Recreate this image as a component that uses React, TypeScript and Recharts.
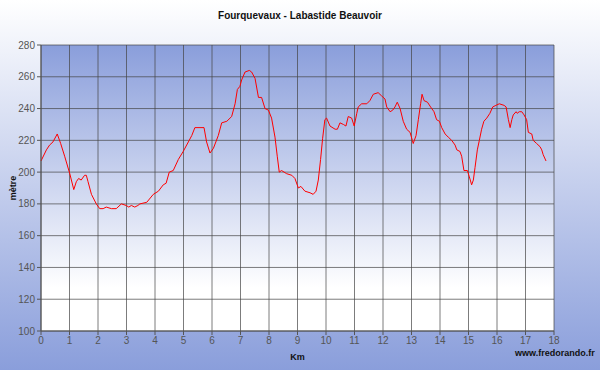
import React from 'react';
import { CartesianGrid, Line, LineChart, XAxis, YAxis } from 'recharts';

// distance (km) and altitude (m)
const km = [
  0, 0.19, 0.3, 0.42, 0.57, 0.69, 0.83, 1.01, 1.15, 1.24, 1.32, 1.41, 1.53, 1.59, 1.65, 1.77, 1.94,
  2.06, 2.18, 2.29, 2.47, 2.64, 2.82, 2.99, 3.08, 3.17, 3.29, 3.4, 3.47, 3.71, 3.94, 4.12, 4.29,
  4.39, 4.5, 4.64, 4.82, 4.99, 5.17, 5.29, 5.4, 5.58, 5.72, 5.81, 5.93, 6.05, 6.22, 6.34, 6.52,
  6.69, 6.81, 6.89, 6.98, 7.04, 7.16, 7.31, 7.39, 7.51, 7.63, 7.74, 7.86, 7.98, 8.09, 8.21, 8.29,
  8.36, 8.44, 8.62, 8.8, 8.91, 9.03, 9.12, 9.26, 9.44, 9.55, 9.65, 9.73, 9.81, 9.88, 9.96, 10.02,
  10.14, 10.32, 10.4, 10.49, 10.61, 10.7, 10.78, 10.9, 10.99, 11.08, 11.13, 11.25, 11.43, 11.54,
  11.66, 11.83, 11.95, 12.07, 12.13, 12.25, 12.34, 12.42, 12.5, 12.6, 12.71, 12.83, 12.95, 13.03,
  13.06, 13.16, 13.24, 13.32, 13.37, 13.44, 13.56, 13.67, 13.79, 13.88, 13.98, 14.06, 14.18,
  14.29, 14.41, 14.53, 14.59, 14.7, 14.76, 14.84, 14.96, 15.03, 15.11, 15.17, 15.23, 15.31, 15.38,
  15.46, 15.54, 15.64, 15.75, 15.85, 15.96, 16.08, 16.25, 16.32, 16.4, 16.46, 16.52, 16.57, 16.67,
  16.71, 16.78, 16.87, 16.95, 17.04, 17.1, 17.22, 17.27, 17.39, 17.51, 17.57, 17.62, 17.72,
];

const altitude = [
  207, 214, 217, 219, 224, 218, 210, 199, 189, 194, 196, 195, 198, 198, 194, 186, 180,
  177, 177, 178, 177, 177, 180, 179, 178, 179, 178, 179, 180, 181, 186, 188, 192,
  193, 200, 201, 208, 213, 219, 223, 228, 228, 228, 219, 212, 215, 223, 231, 232,
  235, 243, 252, 254, 258, 263, 264, 263, 259, 247, 247, 240, 239, 234, 222, 210,
  200, 201, 199, 198, 196, 190, 191, 188, 187, 186, 188, 195, 208, 221, 233, 234,
  229, 227, 227, 231, 230, 229, 235, 234, 229, 237, 241, 243, 243, 245,
  249, 250, 248, 246, 241, 238, 239, 241, 244, 240, 232, 227, 225, 220,
  218, 223, 233, 243, 249, 245, 244, 241, 238, 233, 232, 228, 224,
  222, 220, 217, 214, 213, 210, 201, 201, 197, 192, 195, 203, 214, 220,
  227, 232, 234, 237, 241, 242, 243, 242, 241, 233, 228, 233, 236, 238,
  237, 238, 238, 236, 233, 225, 224, 220, 218, 216, 214, 211, 207,
];

const xTicks = [0, 1, 2, 3, 4, 5, 6, 7, 8, 9, 10, 11, 12, 13, 14, 15, 16, 17, 18];
const yTicks = [100, 120, 140, 160, 180, 200, 220, 240, 260, 280];

const data = km.map((k, i) => ({ km: k, alt: altitude[i] }));

const font = '"Liberation Sans", Arial, sans-serif';
const tickStyle = { fontSize: 10, fill: '#555', fontFamily: font };
const labelStyle = { fontSize: 9, fontWeight: 'bold', fill: '#111', fontFamily: font };

export default function App() {
  return (
    <div
      style={{
        position: 'absolute',
        left: 0,
        top: 0,
        width: 600,
        height: 370,
        background: 'linear-gradient(to bottom, #ffffff 0%, #8a9edb 100%)',
        fontFamily: font,
      }}
    >
      <div
        style={{
          position: 'absolute',
          top: 10,
          width: 600,
          textAlign: 'center',
          fontSize: 10,
          fontWeight: 'bold',
          color: '#111',
        }}
      >
        Fourquevaux - Labastide Beauvoir
      </div>
      <div
        style={{
          position: 'absolute',
          left: 515,
          top: 348,
          fontSize: 9,
          fontWeight: 'bold',
          color: '#111',
        }}
      >
        www.fredorando.fr
      </div>
      <LineChart
        width={600}
        height={370}
        data={data}
        margin={{ top: 45, right: 46, bottom: 0, left: 0 }}
        style={{ position: 'absolute', left: 0, top: 0 }}
      >
        <defs>
          <linearGradient id='plotBg' x1='0' y1='0' x2='0' y2='1'>
            <stop offset='0%' stopColor='#8a9edb' />
            <stop offset='85%' stopColor='#ffffff' />
            <stop offset='100%' stopColor='#ffffff' />
          </linearGradient>
        </defs>
        <CartesianGrid fill='url(#plotBg)' fillOpacity={1} stroke='#444' strokeOpacity={0.7} />
        <XAxis
          dataKey='km'
          type='number'
          domain={[0, 18]}
          ticks={xTicks}
          height={39}
          tick={tickStyle}
          tickSize={4}
          stroke='#555'
          label={{ value: 'Km', position: 'insideBottom', offset: 10, style: labelStyle }}
        />
        <YAxis
          type='number'
          domain={[100, 280]}
          ticks={yTicks}
          width={41}
          tick={tickStyle}
          tickSize={4}
          stroke='#555'
          label={{
            value: 'mètre',
            angle: -90,
            position: 'insideLeft',
            offset: 13,
            style: { ...labelStyle, textAnchor: 'middle' },
          }}
        />
        <Line
          type='linear'
          dataKey='alt'
          stroke='#ff0000'
          strokeWidth={1}
          dot={false}
          isAnimationActive={false}
        />
      </LineChart>
    </div>
  );
}
